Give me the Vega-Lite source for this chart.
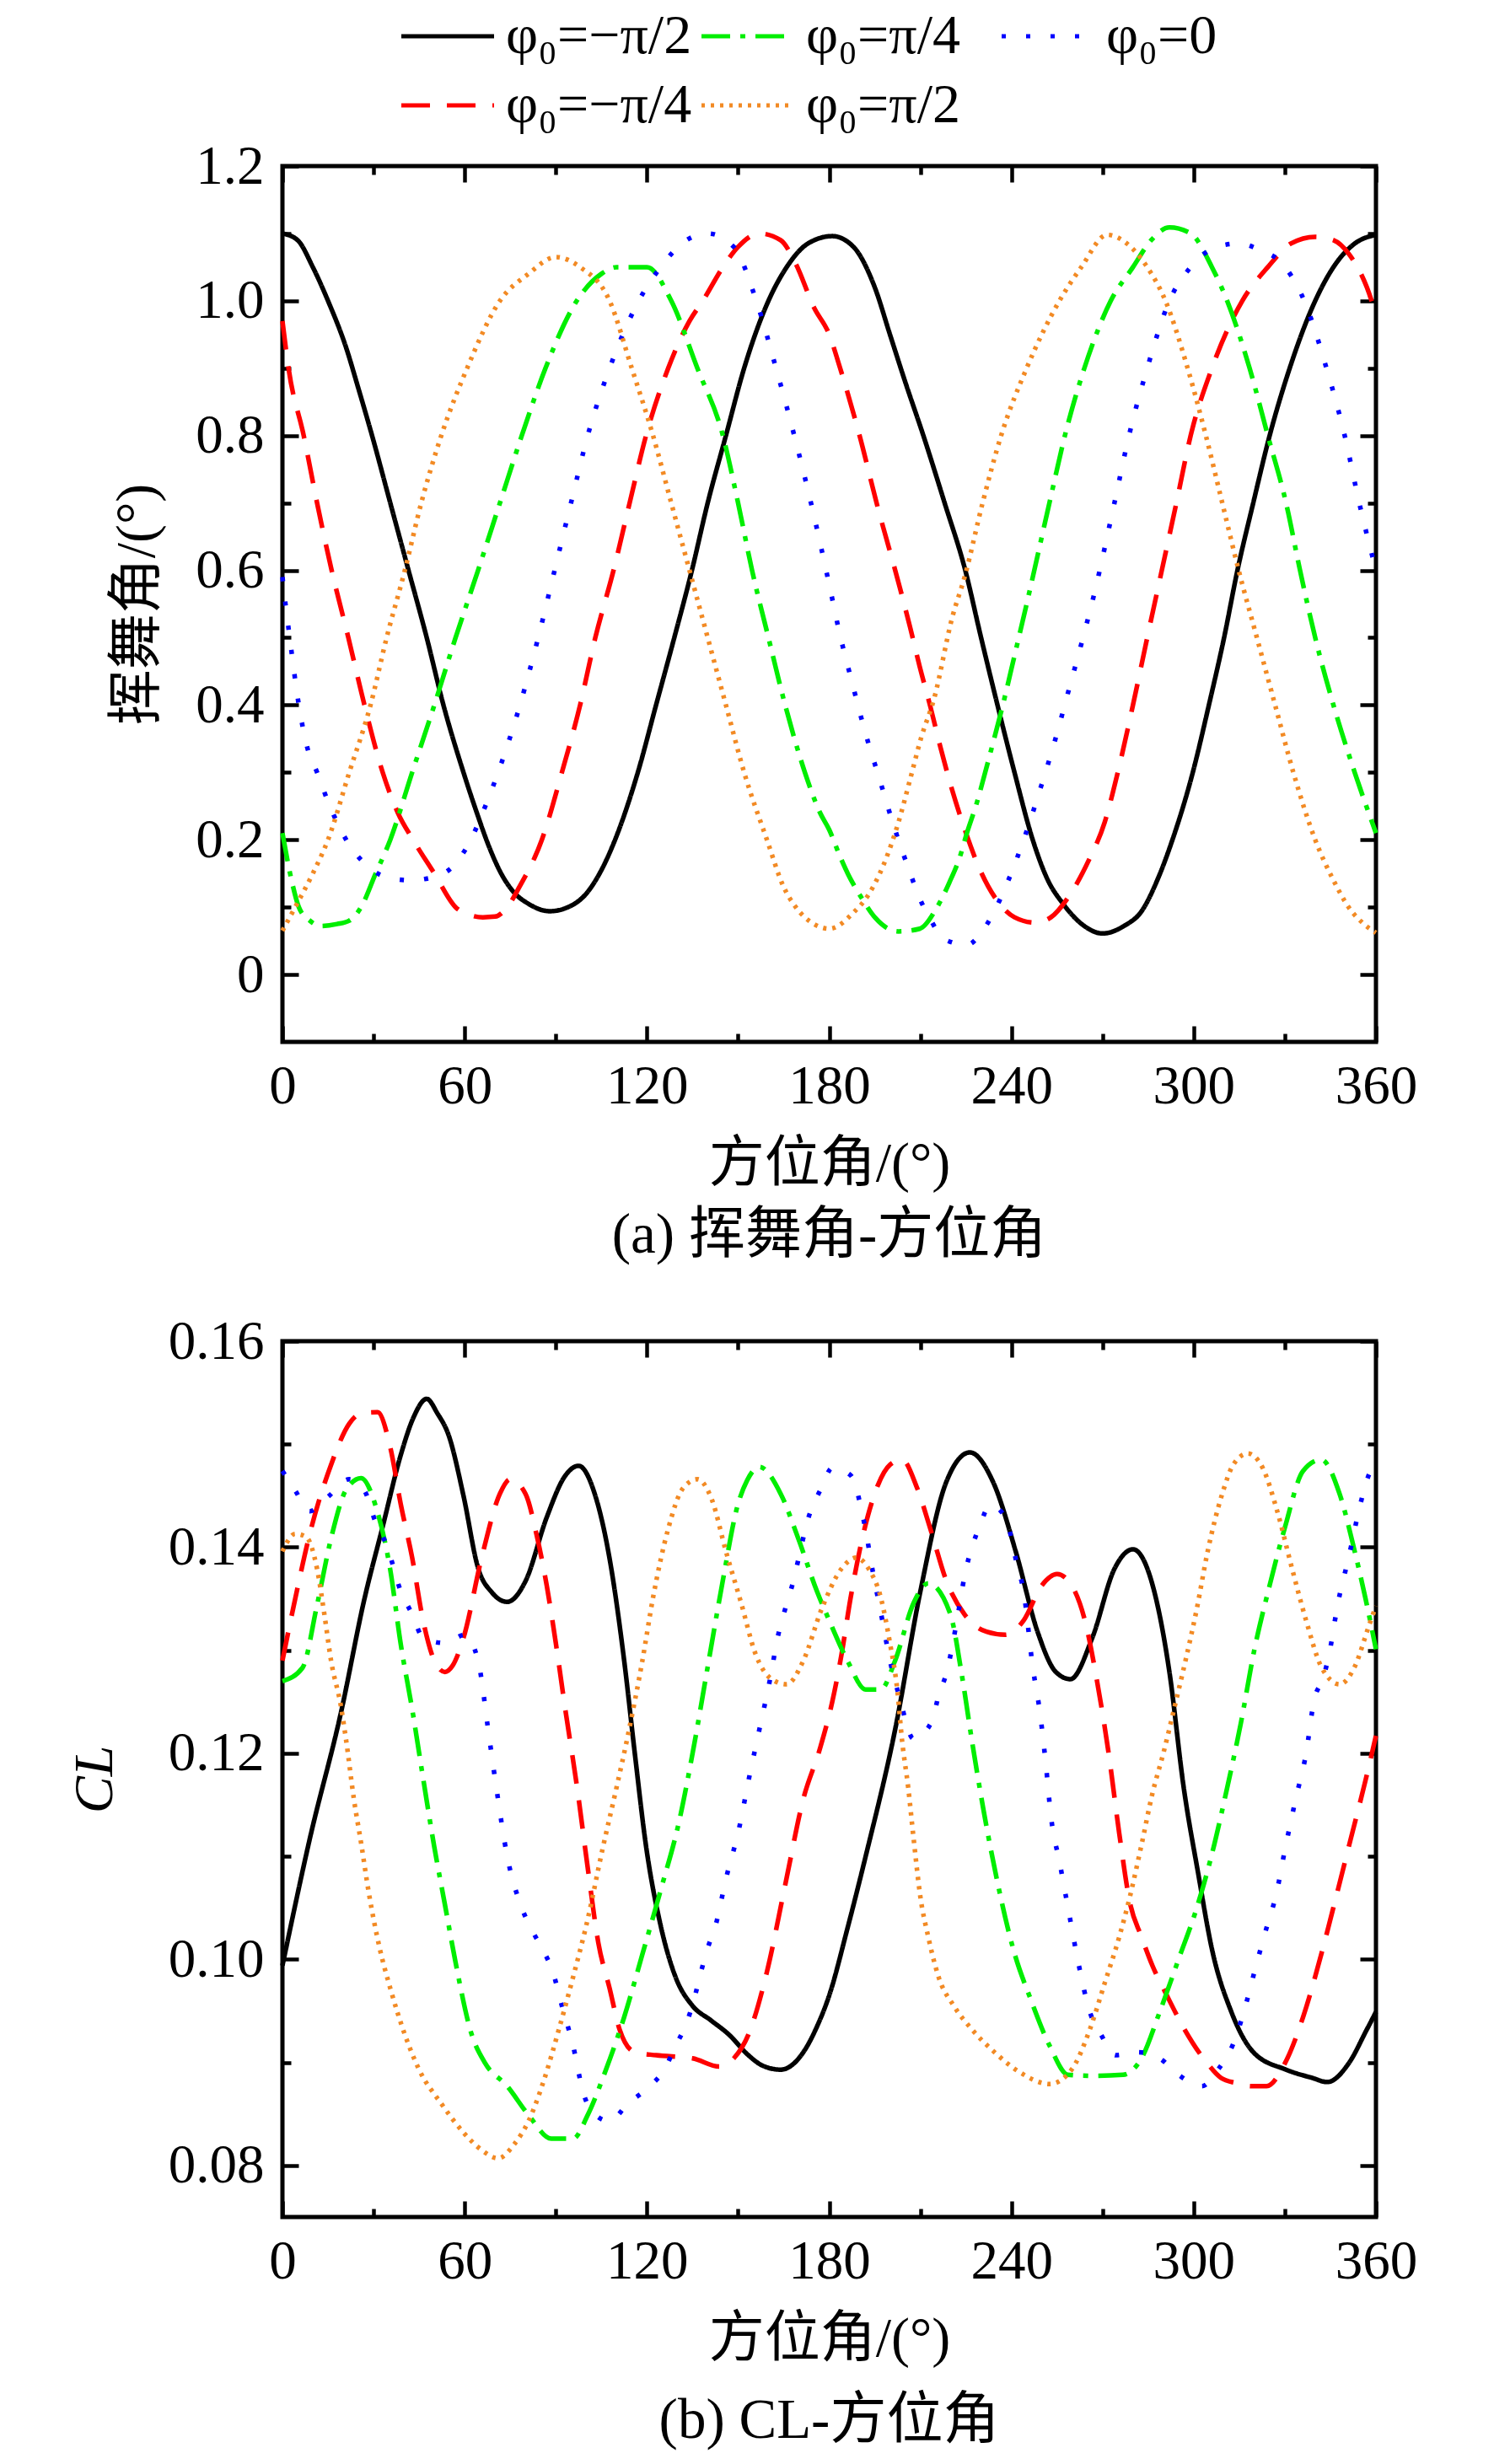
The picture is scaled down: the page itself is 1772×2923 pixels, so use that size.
{
"$schema": "https://vega.github.io/schema/vega-lite/v6.json",
"padding": {"left": 76, "top": 10, "right": 20, "bottom": 3},
"background": "white",
"config": {
  "font": "Liberation Serif, Noto Sans CJK SC",
  "view": {"stroke": "black", "strokeWidth": 5},
  "axis": {"domain": false, "grid": false, "labelFont": "Liberation Serif", "labelFontSize": 65, "labelColor": "black", "tickColor": "black", "tickWidth": 4.5, "titleFont": "Liberation Serif, Noto Sans CJK SC", "titleFontSize": 66, "titleFontWeight": "normal", "titleColor": "black", "labelFlush": false, "labelOverlap": false},
  "title": {"font": "Liberation Serif, Noto Sans CJK SC", "fontSize": 67, "fontWeight": "normal", "orient": "bottom", "anchor": "middle", "color": "black"},
  "legend": {"orient": "none", "legendX": 163, "legendY": -187, "direction": "horizontal", "columns": 3, "gridAlign": "all", "symbolType": "M-2,0L2,0", "symbolSize": 3025, "symbolStrokeWidth": 5, "labelFontSize": 66, "labelFont": "Liberation Serif, DejaVu Serif", "labelColor": "black", "labelOffset": 36, "columnPadding": 1, "rowPadding": 16, "labelLimit": 0}
},
"resolve": {"scale": {"color": "shared", "strokeDash": "shared"}, "legend": {"color": "shared", "strokeDash": "shared"}},
"spacing": 54,
"datasets": {
"a": [
{"s":"φ₀=−π/2","x":0,"y":1.10},{"s":"φ₀=−π/2","x":5,"y":1.09},{"s":"φ₀=−π/2","x":10,"y":1.05},{"s":"φ₀=−π/2","x":15,"y":1.0},{"s":"φ₀=−π/2","x":21,"y":0.93},{"s":"φ₀=−π/2","x":25,"y":0.87},{"s":"φ₀=−π/2","x":29.5,"y":0.8},{"s":"φ₀=−π/2","x":35.5,"y":0.7},{"s":"φ₀=−π/2","x":41.5,"y":0.6},{"s":"φ₀=−π/2","x":47.5,"y":0.5},{"s":"φ₀=−π/2","x":53,"y":0.4},{"s":"φ₀=−π/2","x":59.6,"y":0.3},{"s":"φ₀=−π/2","x":64,"y":0.24},{"s":"φ₀=−π/2","x":68,"y":0.19},{"s":"φ₀=−π/2","x":72,"y":0.15},{"s":"φ₀=−π/2","x":76,"y":0.123},{"s":"φ₀=−π/2","x":81,"y":0.105},{"s":"φ₀=−π/2","x":88,"y":0.094},{"s":"φ₀=−π/2","x":94,"y":0.1},{"s":"φ₀=−π/2","x":100,"y":0.12},{"s":"φ₀=−π/2","x":105,"y":0.155},{"s":"φ₀=−π/2","x":109.5,"y":0.2},{"s":"φ₀=−π/2","x":117,"y":0.3},{"s":"φ₀=−π/2","x":123,"y":0.4},{"s":"φ₀=−π/2","x":129,"y":0.5},{"s":"φ₀=−π/2","x":134.8,"y":0.6},{"s":"φ₀=−π/2","x":140,"y":0.7},{"s":"φ₀=−π/2","x":146,"y":0.8},{"s":"φ₀=−π/2","x":152,"y":0.9},{"s":"φ₀=−π/2","x":160,"y":1.0},{"s":"φ₀=−π/2","x":166,"y":1.05},{"s":"φ₀=−π/2","x":173,"y":1.085},{"s":"φ₀=−π/2","x":181,"y":1.096},{"s":"φ₀=−π/2","x":188,"y":1.08},{"s":"φ₀=−π/2","x":195,"y":1.02},{"s":"φ₀=−π/2","x":200,"y":0.95},{"s":"φ₀=−π/2","x":205,"y":0.88},{"s":"φ₀=−π/2","x":211,"y":0.8},{"s":"φ₀=−π/2","x":218,"y":0.7},{"s":"φ₀=−π/2","x":224.8,"y":0.6},{"s":"φ₀=−π/2","x":230,"y":0.5},{"s":"φ₀=−π/2","x":235.4,"y":0.4},{"s":"φ₀=−π/2","x":241,"y":0.3},{"s":"φ₀=−π/2","x":247,"y":0.2},{"s":"φ₀=−π/2","x":252,"y":0.14},{"s":"φ₀=−π/2","x":257,"y":0.105},{"s":"φ₀=−π/2","x":263.4,"y":0.074},{"s":"φ₀=−π/2","x":270,"y":0.061},{"s":"φ₀=−π/2","x":277,"y":0.072},{"s":"φ₀=−π/2","x":283,"y":0.095},{"s":"φ₀=−π/2","x":288,"y":0.14},{"s":"φ₀=−π/2","x":293,"y":0.2},{"s":"φ₀=−π/2","x":299.7,"y":0.3},{"s":"φ₀=−π/2","x":305,"y":0.4},{"s":"φ₀=−π/2","x":310,"y":0.5},{"s":"φ₀=−π/2","x":314.4,"y":0.6},{"s":"φ₀=−π/2","x":319.6,"y":0.7},{"s":"φ₀=−π/2","x":325,"y":0.8},{"s":"φ₀=−π/2","x":331.6,"y":0.9},{"s":"φ₀=−π/2","x":340,"y":1.0},{"s":"φ₀=−π/2","x":346,"y":1.05},{"s":"φ₀=−π/2","x":353,"y":1.085},{"s":"φ₀=−π/2","x":360,"y":1.098},
{"s":"φ₀=−π/4","x":0,"y":0.97},{"s":"φ₀=−π/4","x":2,"y":0.9},{"s":"φ₀=−π/4","x":7,"y":0.8},{"s":"φ₀=−π/4","x":11.4,"y":0.7},{"s":"φ₀=−π/4","x":16.2,"y":0.6},{"s":"φ₀=−π/4","x":21.7,"y":0.5},{"s":"φ₀=−π/4","x":27,"y":0.4},{"s":"φ₀=−π/4","x":33,"y":0.3},{"s":"φ₀=−π/4","x":38,"y":0.24},{"s":"φ₀=−π/4","x":43,"y":0.2},{"s":"φ₀=−π/4","x":50,"y":0.15},{"s":"φ₀=−π/4","x":57,"y":0.1},{"s":"φ₀=−π/4","x":62,"y":0.088},{"s":"φ₀=−π/4","x":66,"y":0.085},{"s":"φ₀=−π/4","x":70,"y":0.086},{"s":"φ₀=−π/4","x":74,"y":0.1},{"s":"φ₀=−π/4","x":78,"y":0.13},{"s":"φ₀=−π/4","x":85.4,"y":0.2},{"s":"φ₀=−π/4","x":92,"y":0.3},{"s":"φ₀=−π/4","x":98,"y":0.4},{"s":"φ₀=−π/4","x":103,"y":0.5},{"s":"φ₀=−π/4","x":109,"y":0.6},{"s":"φ₀=−π/4","x":114.3,"y":0.7},{"s":"φ₀=−π/4","x":119.7,"y":0.8},{"s":"φ₀=−π/4","x":127,"y":0.9},{"s":"φ₀=−π/4","x":134,"y":0.97},{"s":"φ₀=−π/4","x":138.4,"y":1.0},{"s":"φ₀=−π/4","x":145,"y":1.05},{"s":"φ₀=−π/4","x":150,"y":1.08},{"s":"φ₀=−π/4","x":157,"y":1.10},{"s":"φ₀=−π/4","x":164,"y":1.09},{"s":"φ₀=−π/4","x":169,"y":1.055},{"s":"φ₀=−π/4","x":175,"y":0.99},{"s":"φ₀=−π/4","x":180,"y":0.95},{"s":"φ₀=−π/4","x":183.6,"y":0.9},{"s":"φ₀=−π/4","x":190,"y":0.8},{"s":"φ₀=−π/4","x":195.6,"y":0.7},{"s":"φ₀=−π/4","x":203.1,"y":0.577},{"s":"φ₀=−π/4","x":206.6,"y":0.516},{"s":"φ₀=−π/4","x":209.8,"y":0.457},{"s":"φ₀=−π/4","x":213.4,"y":0.396},{"s":"φ₀=−π/4","x":216.7,"y":0.336},{"s":"φ₀=−π/4","x":220.4,"y":0.275},{"s":"φ₀=−π/4","x":224.5,"y":0.217},{"s":"φ₀=−π/4","x":229.3,"y":0.159},{"s":"φ₀=−π/4","x":235.9,"y":0.106},{"s":"φ₀=−π/4","x":241,"y":0.085},{"s":"φ₀=−π/4","x":247.8,"y":0.077},{"s":"φ₀=−π/4","x":253,"y":0.085},{"s":"φ₀=−π/4","x":258.6,"y":0.114},{"s":"φ₀=−π/4","x":265.5,"y":0.17},{"s":"φ₀=−π/4","x":270.7,"y":0.226},{"s":"φ₀=−π/4","x":275,"y":0.3},{"s":"φ₀=−π/4","x":280,"y":0.4},{"s":"φ₀=−π/4","x":284.7,"y":0.5},{"s":"φ₀=−π/4","x":289.5,"y":0.6},{"s":"φ₀=−π/4","x":294.3,"y":0.7},{"s":"φ₀=−π/4","x":299,"y":0.8},{"s":"φ₀=−π/4","x":306,"y":0.9},{"s":"φ₀=−π/4","x":316,"y":1.0},{"s":"φ₀=−π/4","x":324.4,"y":1.05},{"s":"φ₀=−π/4","x":332,"y":1.085},{"s":"φ₀=−π/4","x":340,"y":1.095},{"s":"φ₀=−π/4","x":346,"y":1.09},{"s":"φ₀=−π/4","x":351,"y":1.07},{"s":"φ₀=−π/4","x":357,"y":1.02},{"s":"φ₀=−π/4","x":360,"y":0.98},
{"s":"φ₀=π/4","x":0,"y":0.21},{"s":"φ₀=π/4","x":3,"y":0.14},{"s":"φ₀=π/4","x":5.4,"y":0.1},{"s":"φ₀=π/4","x":9,"y":0.08},{"s":"φ₀=π/4","x":12.6,"y":0.072},{"s":"φ₀=π/4","x":18,"y":0.075},{"s":"φ₀=π/4","x":22,"y":0.08},{"s":"φ₀=π/4","x":25.9,"y":0.1},{"s":"φ₀=π/4","x":30.7,"y":0.15},{"s":"φ₀=π/4","x":35.5,"y":0.2},{"s":"φ₀=π/4","x":42.7,"y":0.3},{"s":"φ₀=π/4","x":50,"y":0.4},{"s":"φ₀=π/4","x":57,"y":0.5},{"s":"φ₀=π/4","x":64.4,"y":0.6},{"s":"φ₀=π/4","x":71.6,"y":0.7},{"s":"φ₀=π/4","x":78.8,"y":0.8},{"s":"φ₀=π/4","x":86.6,"y":0.9},{"s":"φ₀=π/4","x":96.9,"y":1.0},{"s":"φ₀=π/4","x":105,"y":1.04},{"s":"φ₀=π/4","x":110,"y":1.05},{"s":"φ₀=π/4","x":120,"y":1.05},{"s":"φ₀=π/4","x":128,"y":1.0},{"s":"φ₀=π/4","x":136.6,"y":0.9},{"s":"φ₀=π/4","x":145,"y":0.8},{"s":"φ₀=π/4","x":150,"y":0.7},{"s":"φ₀=π/4","x":154.6,"y":0.6},{"s":"φ₀=π/4","x":160,"y":0.5},{"s":"φ₀=π/4","x":165.5,"y":0.4},{"s":"φ₀=π/4","x":172,"y":0.3},{"s":"φ₀=π/4","x":177,"y":0.24},{"s":"φ₀=π/4","x":180,"y":0.215},{"s":"φ₀=π/4","x":183.4,"y":0.177},{"s":"φ₀=π/4","x":186.2,"y":0.149},{"s":"φ₀=π/4","x":190.5,"y":0.115},{"s":"φ₀=π/4","x":195.2,"y":0.084},{"s":"φ₀=π/4","x":202.8,"y":0.064},{"s":"φ₀=π/4","x":209.8,"y":0.068},{"s":"φ₀=π/4","x":215.4,"y":0.099},{"s":"φ₀=π/4","x":219.6,"y":0.137},{"s":"φ₀=π/4","x":222.9,"y":0.173},{"s":"φ₀=π/4","x":225.4,"y":0.211},{"s":"φ₀=π/4","x":228.2,"y":0.249},{"s":"φ₀=π/4","x":232.7,"y":0.323},{"s":"φ₀=π/4","x":237.1,"y":0.399},{"s":"φ₀=π/4","x":241.1,"y":0.475},{"s":"φ₀=π/4","x":245.1,"y":0.552},{"s":"φ₀=π/4","x":252.5,"y":0.7},{"s":"φ₀=π/4","x":257.6,"y":0.8},{"s":"φ₀=π/4","x":264,"y":0.9},{"s":"φ₀=π/4","x":272.7,"y":1.0},{"s":"φ₀=π/4","x":280,"y":1.05},{"s":"φ₀=π/4","x":286,"y":1.09},{"s":"φ₀=π/4","x":292,"y":1.109},{"s":"φ₀=π/4","x":299,"y":1.1},{"s":"φ₀=π/4","x":306,"y":1.05},{"s":"φ₀=π/4","x":311,"y":1.0},{"s":"φ₀=π/4","x":318.4,"y":0.9},{"s":"φ₀=π/4","x":324.4,"y":0.8},{"s":"φ₀=π/4","x":330.4,"y":0.7},{"s":"φ₀=π/4","x":335,"y":0.6},{"s":"φ₀=π/4","x":340,"y":0.5},{"s":"φ₀=π/4","x":346,"y":0.4},{"s":"φ₀=π/4","x":353,"y":0.3},{"s":"φ₀=π/4","x":360,"y":0.21},
{"s":"φ₀=0","x":0,"y":0.59},{"s":"φ₀=0","x":1,"y":0.55},{"s":"φ₀=0","x":2.4,"y":0.5},{"s":"φ₀=0","x":5.4,"y":0.4},{"s":"φ₀=0","x":8,"y":0.34},{"s":"φ₀=0","x":11.4,"y":0.3},{"s":"φ₀=0","x":15.6,"y":0.25},{"s":"φ₀=0","x":21,"y":0.2},{"s":"φ₀=0","x":27,"y":0.165},{"s":"φ₀=0","x":34,"y":0.145},{"s":"φ₀=0","x":42,"y":0.14},{"s":"φ₀=0","x":50,"y":0.145},{"s":"φ₀=0","x":56,"y":0.16},{"s":"φ₀=0","x":62,"y":0.2},{"s":"φ₀=0","x":66.8,"y":0.25},{"s":"φ₀=0","x":71,"y":0.3},{"s":"φ₀=0","x":78.2,"y":0.4},{"s":"φ₀=0","x":84.2,"y":0.5},{"s":"φ₀=0","x":89.6,"y":0.6},{"s":"φ₀=0","x":95,"y":0.7},{"s":"φ₀=0","x":100.5,"y":0.8},{"s":"φ₀=0","x":107.7,"y":0.9},{"s":"φ₀=0","x":117.3,"y":1.0},{"s":"φ₀=0","x":124.5,"y":1.05},{"s":"φ₀=0","x":133,"y":1.09},{"s":"φ₀=0","x":140,"y":1.10},{"s":"φ₀=0","x":148.6,"y":1.08},{"s":"φ₀=0","x":156,"y":1.0},{"s":"φ₀=0","x":162.5,"y":0.9},{"s":"φ₀=0","x":168.5,"y":0.8},{"s":"φ₀=0","x":174,"y":0.7},{"s":"φ₀=0","x":180,"y":0.579},{"s":"φ₀=0","x":183.4,"y":0.507},{"s":"φ₀=0","x":187.5,"y":0.434},{"s":"φ₀=0","x":191.7,"y":0.362},{"s":"φ₀=0","x":196.5,"y":0.291},{"s":"φ₀=0","x":201.3,"y":0.22},{"s":"φ₀=0","x":206.7,"y":0.15},{"s":"φ₀=0","x":209.6,"y":0.115},{"s":"φ₀=0","x":213.3,"y":0.082},{"s":"φ₀=0","x":217.7,"y":0.053},{"s":"φ₀=0","x":225.3,"y":0.044},{"s":"φ₀=0","x":231.4,"y":0.071},{"s":"φ₀=0","x":238.8,"y":0.138},{"s":"φ₀=0","x":244.7,"y":0.209},{"s":"φ₀=0","x":249.8,"y":0.28},{"s":"φ₀=0","x":254.5,"y":0.35},{"s":"φ₀=0","x":258.9,"y":0.423},{"s":"φ₀=0","x":263.2,"y":0.494},{"s":"φ₀=0","x":267.3,"y":0.566},{"s":"φ₀=0","x":273.9,"y":0.7},{"s":"φ₀=0","x":278.7,"y":0.8},{"s":"φ₀=0","x":284.7,"y":0.9},{"s":"φ₀=0","x":292,"y":1.0},{"s":"φ₀=0","x":299,"y":1.05},{"s":"φ₀=0","x":307.6,"y":1.08},{"s":"φ₀=0","x":314.8,"y":1.085},{"s":"φ₀=0","x":322,"y":1.075},{"s":"φ₀=0","x":328,"y":1.06},{"s":"φ₀=0","x":336.4,"y":1.0},{"s":"φ₀=0","x":343.7,"y":0.9},{"s":"φ₀=0","x":349.7,"y":0.8},{"s":"φ₀=0","x":354.5,"y":0.7},{"s":"φ₀=0","x":360,"y":0.6},
{"s":"φ₀=π/2","x":0,"y":0.065},{"s":"φ₀=π/2","x":4.2,"y":0.1},{"s":"φ₀=π/2","x":10,"y":0.15},{"s":"φ₀=π/2","x":15,"y":0.2},{"s":"φ₀=π/2","x":22,"y":0.3},{"s":"φ₀=π/2","x":29,"y":0.4},{"s":"φ₀=π/2","x":34.3,"y":0.5},{"s":"φ₀=π/2","x":40.3,"y":0.6},{"s":"φ₀=π/2","x":45.7,"y":0.7},{"s":"φ₀=π/2","x":52.3,"y":0.8},{"s":"φ₀=π/2","x":60.8,"y":0.9},{"s":"φ₀=π/2","x":71.6,"y":1.0},{"s":"φ₀=π/2","x":81,"y":1.04},{"s":"φ₀=π/2","x":90,"y":1.065},{"s":"φ₀=π/2","x":98,"y":1.05},{"s":"φ₀=π/2","x":107.7,"y":1.0},{"s":"φ₀=π/2","x":115,"y":0.9},{"s":"φ₀=π/2","x":122,"y":0.8},{"s":"φ₀=π/2","x":128,"y":0.7},{"s":"φ₀=π/2","x":134,"y":0.6},{"s":"φ₀=π/2","x":140,"y":0.5},{"s":"φ₀=π/2","x":146,"y":0.4},{"s":"φ₀=π/2","x":152,"y":0.3},{"s":"φ₀=π/2","x":159.5,"y":0.2},{"s":"φ₀=π/2","x":165,"y":0.13},{"s":"φ₀=π/2","x":169,"y":0.1},{"s":"φ₀=π/2","x":175,"y":0.075},{"s":"φ₀=π/2","x":180,"y":0.068},{"s":"φ₀=π/2","x":188,"y":0.092},{"s":"φ₀=π/2","x":193,"y":0.119},{"s":"φ₀=π/2","x":198,"y":0.164},{"s":"φ₀=π/2","x":202.8,"y":0.226},{"s":"φ₀=π/2","x":206.6,"y":0.289},{"s":"φ₀=π/2","x":210.3,"y":0.352},{"s":"φ₀=π/2","x":214.5,"y":0.409},{"s":"φ₀=π/2","x":220.5,"y":0.53},{"s":"φ₀=π/2","x":224.7,"y":0.592},{"s":"φ₀=π/2","x":230.5,"y":0.7},{"s":"φ₀=π/2","x":236.6,"y":0.8},{"s":"φ₀=π/2","x":245,"y":0.9},{"s":"φ₀=π/2","x":255.8,"y":1.0},{"s":"φ₀=π/2","x":263,"y":1.05},{"s":"φ₀=π/2","x":271.5,"y":1.098},{"s":"φ₀=π/2","x":278,"y":1.085},{"s":"φ₀=π/2","x":284.7,"y":1.05},{"s":"φ₀=π/2","x":290.7,"y":1.0},{"s":"φ₀=π/2","x":298,"y":0.9},{"s":"φ₀=π/2","x":304,"y":0.8},{"s":"φ₀=π/2","x":309.4,"y":0.7},{"s":"φ₀=π/2","x":314.8,"y":0.6},{"s":"φ₀=π/2","x":320.8,"y":0.5},{"s":"φ₀=π/2","x":326.8,"y":0.4},{"s":"φ₀=π/2","x":332.8,"y":0.3},{"s":"φ₀=π/2","x":340,"y":0.2},{"s":"φ₀=π/2","x":346,"y":0.14},{"s":"φ₀=π/2","x":351,"y":0.1},{"s":"φ₀=π/2","x":356,"y":0.075},{"s":"φ₀=π/2","x":360,"y":0.062}
],
"b": [
{"s":"φ₀=−π/2","x":0,"y":0.0994},{"s":"φ₀=−π/2","x":9,"y":0.1117},{"s":"φ₀=−π/2","x":19.3,"y":0.124},{"s":"φ₀=−π/2","x":27,"y":0.135},{"s":"φ₀=−π/2","x":33,"y":0.142},{"s":"φ₀=−π/2","x":39,"y":0.149},{"s":"φ₀=−π/2","x":43,"y":0.1525},{"s":"φ₀=−π/2","x":47.5,"y":0.1544},{"s":"φ₀=−π/2","x":51,"y":0.153},{"s":"φ₀=−π/2","x":54.8,"y":0.1508},{"s":"φ₀=−π/2","x":59.6,"y":0.145},{"s":"φ₀=−π/2","x":64.4,"y":0.138},{"s":"φ₀=−π/2","x":69,"y":0.1356},{"s":"φ₀=−π/2","x":74,"y":0.1347},{"s":"φ₀=−π/2","x":80,"y":0.1367},{"s":"φ₀=−π/2","x":87,"y":0.1429},{"s":"φ₀=−π/2","x":93,"y":0.1469},{"s":"φ₀=−π/2","x":97.5,"y":0.1479},{"s":"φ₀=−π/2","x":103,"y":0.145},{"s":"φ₀=−π/2","x":107.7,"y":0.1389},{"s":"φ₀=−π/2","x":112.5,"y":0.129},{"s":"φ₀=−π/2","x":116,"y":0.12},{"s":"φ₀=−π/2","x":119.7,"y":0.111},{"s":"φ₀=−π/2","x":124.5,"y":0.1033},{"s":"φ₀=−π/2","x":129.4,"y":0.0983},{"s":"φ₀=−π/2","x":135,"y":0.0955},{"s":"φ₀=−π/2","x":141,"y":0.0941},{"s":"φ₀=−π/2","x":147,"y":0.0927},{"s":"φ₀=−π/2","x":153.4,"y":0.0907},{"s":"φ₀=−π/2","x":158,"y":0.0897},{"s":"φ₀=−π/2","x":164,"y":0.0893},{"s":"φ₀=−π/2","x":171.5,"y":0.091},{"s":"φ₀=−π/2","x":176,"y":0.0935},{"s":"φ₀=−π/2","x":180,"y":0.0965},{"s":"φ₀=−π/2","x":186,"y":0.103},{"s":"φ₀=−π/2","x":192,"y":0.11},{"s":"φ₀=−π/2","x":201.7,"y":0.1223},{"s":"φ₀=−π/2","x":210,"y":0.1357},{"s":"φ₀=−π/2","x":218.5,"y":0.1463},{"s":"φ₀=−π/2","x":226.3,"y":0.1492},{"s":"φ₀=−π/2","x":234,"y":0.1463},{"s":"φ₀=−π/2","x":241.4,"y":0.1396},{"s":"φ₀=−π/2","x":248.6,"y":0.1318},{"s":"φ₀=−π/2","x":254.6,"y":0.1279},{"s":"φ₀=−π/2","x":259.4,"y":0.1272},{"s":"φ₀=−π/2","x":266.6,"y":0.1312},{"s":"φ₀=−π/2","x":273.9,"y":0.1379},{"s":"φ₀=−π/2","x":280,"y":0.1398},{"s":"φ₀=−π/2","x":286,"y":0.1368},{"s":"φ₀=−π/2","x":292,"y":0.1279},{"s":"φ₀=−π/2","x":296.7,"y":0.1167},{"s":"φ₀=−π/2","x":301.5,"y":0.1083},{"s":"φ₀=−π/2","x":306,"y":0.101},{"s":"φ₀=−π/2","x":312.4,"y":0.0949},{"s":"φ₀=−π/2","x":319.6,"y":0.091},{"s":"φ₀=−π/2","x":330.4,"y":0.0893},{"s":"φ₀=−π/2","x":339,"y":0.0885},{"s":"φ₀=−π/2","x":344,"y":0.0881},{"s":"φ₀=−π/2","x":351,"y":0.0899},{"s":"φ₀=−π/2","x":357,"y":0.0932},{"s":"φ₀=−π/2","x":360,"y":0.0949},
{"s":"φ₀=−π/4","x":0,"y":0.129},{"s":"φ₀=−π/4","x":4.2,"y":0.135},{"s":"φ₀=−π/4","x":9,"y":0.1413},{"s":"φ₀=−π/4","x":16,"y":0.148},{"s":"φ₀=−π/4","x":22,"y":0.152},{"s":"φ₀=−π/4","x":26,"y":0.153},{"s":"φ₀=−π/4","x":31.3,"y":0.1531},{"s":"φ₀=−π/4","x":35.5,"y":0.1497},{"s":"φ₀=−π/4","x":39,"y":0.1441},{"s":"φ₀=−π/4","x":42.7,"y":0.139},{"s":"φ₀=−π/4","x":46.3,"y":0.1329},{"s":"φ₀=−π/4","x":50,"y":0.129},{"s":"φ₀=−π/4","x":53.5,"y":0.1279},{"s":"φ₀=−π/4","x":56,"y":0.1285},{"s":"φ₀=−π/4","x":59.6,"y":0.1312},{"s":"φ₀=−π/4","x":65.6,"y":0.139},{"s":"φ₀=−π/4","x":71.6,"y":0.1452},{"s":"φ₀=−π/4","x":75,"y":0.1466},{"s":"φ₀=−π/4","x":80,"y":0.1452},{"s":"φ₀=−π/4","x":83.6,"y":0.1413},{"s":"φ₀=−π/4","x":87,"y":0.1363},{"s":"φ₀=−π/4","x":90,"y":0.1307},{"s":"φ₀=−π/4","x":93,"y":0.1245},{"s":"φ₀=−π/4","x":97,"y":0.1167},{"s":"φ₀=−π/4","x":100.5,"y":0.1089},{"s":"φ₀=−π/4","x":104,"y":0.1016},{"s":"φ₀=−π/4","x":107.7,"y":0.0972},{"s":"φ₀=−π/4","x":111,"y":0.0932},{"s":"φ₀=−π/4","x":116,"y":0.091},{"s":"φ₀=−π/4","x":123,"y":0.0907},{"s":"φ₀=−π/4","x":135,"y":0.0904},{"s":"φ₀=−π/4","x":143.8,"y":0.0896},{"s":"φ₀=−π/4","x":148.6,"y":0.0904},{"s":"φ₀=−π/4","x":153.4,"y":0.0927},{"s":"φ₀=−π/4","x":159.5,"y":0.0988},{"s":"φ₀=−π/4","x":165.5,"y":0.1072},{"s":"φ₀=−π/4","x":171.5,"y":0.1156},{"s":"φ₀=−π/4","x":177,"y":0.1205},{"s":"φ₀=−π/4","x":181,"y":0.125},{"s":"φ₀=−π/4","x":184,"y":0.1295},{"s":"φ₀=−π/4","x":187,"y":0.135},{"s":"φ₀=−π/4","x":191,"y":0.141},{"s":"φ₀=−π/4","x":196,"y":0.146},{"s":"φ₀=−π/4","x":200,"y":0.148},{"s":"φ₀=−π/4","x":204,"y":0.1485},{"s":"φ₀=−π/4","x":209,"y":0.1457},{"s":"φ₀=−π/4","x":213.8,"y":0.1413},{"s":"φ₀=−π/4","x":218.5,"y":0.1368},{"s":"φ₀=−π/4","x":224.5,"y":0.1335},{"s":"φ₀=−π/4","x":231.8,"y":0.1318},{"s":"φ₀=−π/4","x":238,"y":0.1315},{"s":"φ₀=−π/4","x":244,"y":0.1329},{"s":"φ₀=−π/4","x":250,"y":0.1363},{"s":"φ₀=−π/4","x":255,"y":0.1374},{"s":"φ₀=−π/4","x":259.8,"y":0.1363},{"s":"φ₀=−π/4","x":264.6,"y":0.1324},{"s":"φ₀=−π/4","x":268,"y":0.1273},{"s":"φ₀=−π/4","x":272,"y":0.12},{"s":"φ₀=−π/4","x":275.5,"y":0.1122},{"s":"φ₀=−π/4","x":279,"y":0.1055},{"s":"φ₀=−π/4","x":282.8,"y":0.1022},{"s":"φ₀=−π/4","x":286.4,"y":0.0994},{"s":"φ₀=−π/4","x":291,"y":0.0966},{"s":"φ₀=−π/4","x":297,"y":0.0932},{"s":"φ₀=−π/4","x":304.5,"y":0.0899},{"s":"φ₀=−π/4","x":309,"y":0.0885},{"s":"φ₀=−π/4","x":314,"y":0.088},{"s":"φ₀=−π/4","x":319,"y":0.0877},{"s":"φ₀=−π/4","x":324,"y":0.0877},{"s":"φ₀=−π/4","x":330,"y":0.0899},{"s":"φ₀=−π/4","x":336,"y":0.0944},{"s":"φ₀=−π/4","x":342,"y":0.1005},{"s":"φ₀=−π/4","x":346.9,"y":0.1061},{"s":"φ₀=−π/4","x":351.7,"y":0.1117},{"s":"φ₀=−π/4","x":356.5,"y":0.1173},{"s":"φ₀=−π/4","x":360,"y":0.1217},
{"s":"φ₀=π/4","x":0,"y":0.127},{"s":"φ₀=π/4","x":6.6,"y":0.1283},{"s":"φ₀=π/4","x":11.4,"y":0.1344},{"s":"φ₀=π/4","x":16.2,"y":0.1411},{"s":"φ₀=π/4","x":21,"y":0.1456},{"s":"φ₀=π/4","x":25.9,"y":0.1467},{"s":"φ₀=π/4","x":30.7,"y":0.144},{"s":"φ₀=π/4","x":35.5,"y":0.1378},{"s":"φ₀=π/4","x":39,"y":0.1305},{"s":"φ₀=π/4","x":42.7,"y":0.1243},{"s":"φ₀=π/4","x":46.3,"y":0.1176},{"s":"φ₀=π/4","x":50,"y":0.1109},{"s":"φ₀=π/4","x":53.5,"y":0.1053},{"s":"φ₀=π/4","x":57,"y":0.0997},{"s":"φ₀=π/4","x":62,"y":0.093},{"s":"φ₀=π/4","x":66.8,"y":0.0899},{"s":"φ₀=π/4","x":74,"y":0.0877},{"s":"φ₀=π/4","x":81,"y":0.0849},{"s":"φ₀=π/4","x":88.5,"y":0.0826},{"s":"φ₀=π/4","x":95.7,"y":0.0826},{"s":"φ₀=π/4","x":100.5,"y":0.0849},{"s":"φ₀=π/4","x":106.5,"y":0.0893},{"s":"φ₀=π/4","x":112.5,"y":0.0944},{"s":"φ₀=π/4","x":118.5,"y":0.1005},{"s":"φ₀=π/4","x":124.5,"y":0.1067},{"s":"φ₀=π/4","x":130.6,"y":0.1134},{"s":"φ₀=π/4","x":135.4,"y":0.1206},{"s":"φ₀=π/4","x":140,"y":0.1284},{"s":"φ₀=π/4","x":145,"y":0.1368},{"s":"φ₀=π/4","x":149.8,"y":0.144},{"s":"φ₀=π/4","x":153,"y":0.1465},{"s":"φ₀=π/4","x":157,"y":0.1478},{"s":"φ₀=π/4","x":164,"y":0.1452},{"s":"φ₀=π/4","x":170,"y":0.1407},{"s":"φ₀=π/4","x":176,"y":0.1357},{"s":"φ₀=π/4","x":180,"y":0.1329},{"s":"φ₀=π/4","x":186,"y":0.129},{"s":"φ₀=π/4","x":192,"y":0.1262},{"s":"φ₀=π/4","x":197,"y":0.1262},{"s":"φ₀=π/4","x":201.7,"y":0.129},{"s":"φ₀=π/4","x":207.8,"y":0.1346},{"s":"φ₀=π/4","x":212.6,"y":0.1365},{"s":"φ₀=π/4","x":219.9,"y":0.1335},{"s":"φ₀=π/4","x":223.5,"y":0.1279},{"s":"φ₀=π/4","x":227,"y":0.1212},{"s":"φ₀=π/4","x":230.8,"y":0.1145},{"s":"φ₀=π/4","x":235.6,"y":0.1072},{"s":"φ₀=π/4","x":240.5,"y":0.1011},{"s":"φ₀=π/4","x":246.5,"y":0.096},{"s":"φ₀=π/4","x":252.6,"y":0.0916},{"s":"φ₀=π/4","x":258.6,"y":0.0888},{"s":"φ₀=π/4","x":267,"y":0.0887},{"s":"φ₀=π/4","x":276.7,"y":0.0888},{"s":"φ₀=π/4","x":282.8,"y":0.0904},{"s":"φ₀=π/4","x":288.8,"y":0.0949},{"s":"φ₀=π/4","x":295,"y":0.1},{"s":"φ₀=π/4","x":301,"y":0.105},{"s":"φ₀=π/4","x":305.8,"y":0.11},{"s":"φ₀=π/4","x":310.6,"y":0.1161},{"s":"φ₀=π/4","x":315.5,"y":0.1229},{"s":"φ₀=π/4","x":320,"y":0.1301},{"s":"φ₀=π/4","x":325,"y":0.1363},{"s":"φ₀=π/4","x":330,"y":0.1419},{"s":"φ₀=π/4","x":336,"y":0.1474},{"s":"φ₀=π/4","x":342,"y":0.1485},{"s":"φ₀=π/4","x":348,"y":0.1452},{"s":"φ₀=π/4","x":353,"y":0.1396},{"s":"φ₀=π/4","x":356.5,"y":0.1351},{"s":"φ₀=π/4","x":360,"y":0.1301},
{"s":"φ₀=0","x":0,"y":0.1474},{"s":"φ₀=0","x":4.2,"y":0.1455},{"s":"φ₀=0","x":9,"y":0.1435},{"s":"φ₀=0","x":15,"y":0.1449},{"s":"φ₀=0","x":22,"y":0.1466},{"s":"φ₀=0","x":27,"y":0.1455},{"s":"φ₀=0","x":30.7,"y":0.1424},{"s":"φ₀=0","x":34.3,"y":0.1402},{"s":"φ₀=0","x":39,"y":0.1357},{"s":"φ₀=0","x":42.7,"y":0.1335},{"s":"φ₀=0","x":46.3,"y":0.1312},{"s":"φ₀=0","x":53.5,"y":0.1307},{"s":"φ₀=0","x":60,"y":0.1315},{"s":"φ₀=0","x":64.4,"y":0.129},{"s":"φ₀=0","x":68,"y":0.1217},{"s":"φ₀=0","x":70.4,"y":0.1167},{"s":"φ₀=0","x":74,"y":0.11},{"s":"φ₀=0","x":78.8,"y":0.105},{"s":"φ₀=0","x":82.4,"y":0.1027},{"s":"φ₀=0","x":86,"y":0.1008},{"s":"φ₀=0","x":89,"y":0.0988},{"s":"φ₀=0","x":92,"y":0.0955},{"s":"φ₀=0","x":95.7,"y":0.0916},{"s":"φ₀=0","x":99,"y":0.0871},{"s":"φ₀=0","x":103,"y":0.0849},{"s":"φ₀=0","x":107.7,"y":0.0843},{"s":"φ₀=0","x":113.7,"y":0.086},{"s":"φ₀=0","x":121,"y":0.0877},{"s":"φ₀=0","x":125.7,"y":0.0893},{"s":"φ₀=0","x":129.4,"y":0.0916},{"s":"φ₀=0","x":133,"y":0.0938},{"s":"φ₀=0","x":135.4,"y":0.096},{"s":"φ₀=0","x":137.8,"y":0.0988},{"s":"φ₀=0","x":140,"y":0.1011},{"s":"φ₀=0","x":142.6,"y":0.1033},{"s":"φ₀=0","x":146,"y":0.1078},{"s":"φ₀=0","x":150.4,"y":0.1128},{"s":"φ₀=0","x":153.4,"y":0.1173},{"s":"φ₀=0","x":157,"y":0.1223},{"s":"φ₀=0","x":160.6,"y":0.1273},{"s":"φ₀=0","x":163,"y":0.1312},{"s":"φ₀=0","x":165.5,"y":0.134},{"s":"φ₀=0","x":168,"y":0.1365},{"s":"φ₀=0","x":170,"y":0.139},{"s":"φ₀=0","x":172.7,"y":0.1424},{"s":"φ₀=0","x":177.5,"y":0.1458},{"s":"φ₀=0","x":181,"y":0.1477},{"s":"φ₀=0","x":187,"y":0.147},{"s":"φ₀=0","x":191.5,"y":0.1424},{"s":"φ₀=0","x":194.5,"y":0.1374},{"s":"φ₀=0","x":197.5,"y":0.1329},{"s":"φ₀=0","x":200,"y":0.129},{"s":"φ₀=0","x":203,"y":0.1256},{"s":"φ₀=0","x":207.8,"y":0.1214},{"s":"φ₀=0","x":213.8,"y":0.1231},{"s":"φ₀=0","x":216,"y":0.1256},{"s":"φ₀=0","x":218.7,"y":0.1279},{"s":"φ₀=0","x":221.7,"y":0.1323},{"s":"φ₀=0","x":224.7,"y":0.1374},{"s":"φ₀=0","x":229.6,"y":0.1421},{"s":"φ₀=0","x":233,"y":0.1441},{"s":"φ₀=0","x":238,"y":0.1429},{"s":"φ₀=0","x":241.7,"y":0.1385},{"s":"φ₀=0","x":244,"y":0.1357},{"s":"φ₀=0","x":247,"y":0.1284},{"s":"φ₀=0","x":249.5,"y":0.1237},{"s":"φ₀=0","x":251.3,"y":0.119},{"s":"φ₀=0","x":253,"y":0.1139},{"s":"φ₀=0","x":256,"y":0.1092},{"s":"φ₀=0","x":259,"y":0.1044},{"s":"φ₀=0","x":262,"y":0.0997},{"s":"φ₀=0","x":265.8,"y":0.0949},{"s":"φ₀=0","x":269.5,"y":0.0927},{"s":"φ₀=0","x":274.3,"y":0.0907},{"s":"φ₀=0","x":281.6,"y":0.091},{"s":"φ₀=0","x":288.8,"y":0.0904},{"s":"φ₀=0","x":295,"y":0.0888},{"s":"φ₀=0","x":302.7,"y":0.0877},{"s":"φ₀=0","x":308,"y":0.0893},{"s":"φ₀=0","x":313,"y":0.0918},{"s":"φ₀=0","x":317.8,"y":0.0963},{"s":"φ₀=0","x":320,"y":0.0988},{"s":"φ₀=0","x":324.5,"y":0.1036},{"s":"φ₀=0","x":327,"y":0.1061},{"s":"φ₀=0","x":330,"y":0.1106},{"s":"φ₀=0","x":333.6,"y":0.1156},{"s":"φ₀=0","x":337,"y":0.12},{"s":"φ₀=0","x":339.6,"y":0.1251},{"s":"φ₀=0","x":342.6,"y":0.1273},{"s":"φ₀=0","x":344.5,"y":0.1295},{"s":"φ₀=0","x":347.5,"y":0.1346},{"s":"φ₀=0","x":351,"y":0.139},{"s":"φ₀=0","x":354.8,"y":0.1441},{"s":"φ₀=0","x":357,"y":0.1465},{"s":"φ₀=0","x":360,"y":0.1483},
{"s":"φ₀=π/2","x":0,"y":0.1396},{"s":"φ₀=π/2","x":4.2,"y":0.1413},{"s":"φ₀=π/2","x":7.8,"y":0.141},{"s":"φ₀=π/2","x":11.4,"y":0.1379},{"s":"φ₀=π/2","x":13.8,"y":0.1335},{"s":"φ₀=π/2","x":16,"y":0.129},{"s":"φ₀=π/2","x":19.3,"y":0.1245},{"s":"φ₀=π/2","x":21,"y":0.1212},{"s":"φ₀=π/2","x":23.5,"y":0.1156},{"s":"φ₀=π/2","x":26,"y":0.1111},{"s":"φ₀=π/2","x":28.3,"y":0.1067},{"s":"φ₀=π/2","x":32,"y":0.1011},{"s":"φ₀=π/2","x":35.5,"y":0.0972},{"s":"φ₀=π/2","x":40.3,"y":0.0927},{"s":"φ₀=π/2","x":45,"y":0.0893},{"s":"φ₀=π/2","x":52.3,"y":0.086},{"s":"φ₀=π/2","x":59.6,"y":0.0832},{"s":"φ₀=π/2","x":65.6,"y":0.0815},{"s":"φ₀=π/2","x":71,"y":0.0807},{"s":"φ₀=π/2","x":76.4,"y":0.0821},{"s":"φ₀=π/2","x":81,"y":0.0843},{"s":"φ₀=π/2","x":86,"y":0.0882},{"s":"φ₀=π/2","x":91,"y":0.0932},{"s":"φ₀=π/2","x":95.7,"y":0.0983},{"s":"φ₀=π/2","x":100.5,"y":0.1039},{"s":"φ₀=π/2","x":105.3,"y":0.1106},{"s":"φ₀=π/2","x":110,"y":0.1167},{"s":"φ₀=π/2","x":113.7,"y":0.1217},{"s":"φ₀=π/2","x":118.5,"y":0.129},{"s":"φ₀=π/2","x":122,"y":0.1351},{"s":"φ₀=π/2","x":127,"y":0.1418},{"s":"φ₀=π/2","x":131.8,"y":0.1457},{"s":"φ₀=π/2","x":136.6,"y":0.1466},{"s":"φ₀=π/2","x":141.4,"y":0.1446},{"s":"φ₀=π/2","x":146,"y":0.1396},{"s":"φ₀=π/2","x":151,"y":0.1346},{"s":"φ₀=π/2","x":155.8,"y":0.1296},{"s":"φ₀=π/2","x":160.6,"y":0.1273},{"s":"φ₀=π/2","x":166,"y":0.1267},{"s":"φ₀=π/2","x":171.5,"y":0.129},{"s":"φ₀=π/2","x":177.5,"y":0.134},{"s":"φ₀=π/2","x":184,"y":0.1379},{"s":"φ₀=π/2","x":189,"y":0.139},{"s":"φ₀=π/2","x":193,"y":0.1379},{"s":"φ₀=π/2","x":197,"y":0.1351},{"s":"φ₀=π/2","x":200,"y":0.1307},{"s":"φ₀=π/2","x":202.4,"y":0.1262},{"s":"φ₀=π/2","x":204,"y":0.1212},{"s":"φ₀=π/2","x":206,"y":0.1167},{"s":"φ₀=π/2","x":207.8,"y":0.1117},{"s":"φ₀=π/2","x":210,"y":0.1061},{"s":"φ₀=π/2","x":212.6,"y":0.1022},{"s":"φ₀=π/2","x":216,"y":0.0983},{"s":"φ₀=π/2","x":221,"y":0.0955},{"s":"φ₀=π/2","x":227,"y":0.0932},{"s":"φ₀=π/2","x":234.4,"y":0.091},{"s":"φ₀=π/2","x":243,"y":0.089},{"s":"φ₀=π/2","x":252.6,"y":0.0879},{"s":"φ₀=π/2","x":259.8,"y":0.0893},{"s":"φ₀=π/2","x":265.8,"y":0.0932},{"s":"φ₀=π/2","x":270.7,"y":0.0977},{"s":"φ₀=π/2","x":275.5,"y":0.1022},{"s":"φ₀=π/2","x":279,"y":0.1061},{"s":"φ₀=π/2","x":282.8,"y":0.1111},{"s":"φ₀=π/2","x":286.4,"y":0.1161},{"s":"φ₀=π/2","x":290,"y":0.12},{"s":"φ₀=π/2","x":293.7,"y":0.1245},{"s":"φ₀=π/2","x":297.3,"y":0.129},{"s":"φ₀=π/2","x":301,"y":0.134},{"s":"φ₀=π/2","x":304.6,"y":0.1396},{"s":"φ₀=π/2","x":309.4,"y":0.1452},{"s":"φ₀=π/2","x":313,"y":0.148},{"s":"φ₀=π/2","x":317.8,"y":0.1491},{"s":"φ₀=π/2","x":322.7,"y":0.1477},{"s":"φ₀=π/2","x":327.5,"y":0.1435},{"s":"φ₀=π/2","x":332.4,"y":0.1379},{"s":"φ₀=π/2","x":337,"y":0.1329},{"s":"φ₀=π/2","x":342,"y":0.1284},{"s":"φ₀=π/2","x":348,"y":0.1267},{"s":"φ₀=π/2","x":353,"y":0.1284},{"s":"φ₀=π/2","x":357.7,"y":0.1324},{"s":"φ₀=π/2","x":360,"y":0.1343}
]
},
"vconcat": [
{
  "width": 1297, "height": 1039,
  "title": {"text": "(a) 挥舞角-方位角", "offset": 20},
  "data": {"name": "a"},
  "layer": [
    {
      "mark": {"type": "line", "strokeWidth": 5.5, "interpolate": "monotone"},
      "encoding": {
        "x": {"field": "x", "type": "quantitative", "scale": {"domain": [0, 360], "nice": false, "zero": false},
              "axis": {"orient": "bottom", "title": "方位角/(°)", "values": [0,30,60,90,120,150,180,210,240,270,300,330,360], "labelExpr": "datum.value % 60 === 0 ? datum.label : ''", "tickSize": {"condition": {"test": "datum.value % 60 === 0", "value": -19}, "value": -10}, "labelPadding": 40, "titlePadding": 18}},
        "y": {"field": "y", "type": "quantitative", "scale": {"domain": [-0.1, 1.2], "nice": false, "zero": false},
              "axis": {"orient": "left", "title": "挥舞角/(°)", "values": [0,0.1,0.2,0.3,0.4,0.5,0.6,0.7,0.8,0.9,1.0,1.1,1.2], "labelExpr": "round(datum.value*10) % 2 === 0 ? (datum.value === 0 ? '0' : format(datum.value, '.1f')) : ''", "tickSize": {"condition": {"test": "round(datum.value*10) % 2 === 0", "value": -19}, "value": -10}, "labelPadding": 41, "titlePadding": 35}},
        "color": {"field": "s", "type": "nominal", "title": null,
                  "scale": {"domain": ["φ₀=−π/2","φ₀=π/4","φ₀=0","φ₀=−π/4","φ₀=π/2"], "range": ["#000000","#00EE00","#0000FF","#FF0000","#F28A24"]}},
        "strokeDash": {"field": "s", "type": "nominal", "title": null,
                  "scale": {"domain": ["φ₀=−π/2","φ₀=π/4","φ₀=0","φ₀=−π/4","φ₀=π/2"], "range": [[1,0],[34,12,6,12],[5,24],[34,20],[4,7]]}}
      }
    },
    {
      "mark": {"type": "point", "opacity": 0, "size": 1},
      "encoding": {
        "x": {"field": "x", "type": "quantitative", "scale": {"domain": [0, 360], "nice": false, "zero": false},
              "axis": {"orient": "top", "title": null, "labels": false, "values": [0,30,60,90,120,150,180,210,240,270,300,330,360], "tickSize": {"condition": {"test": "datum.value % 60 === 0", "value": -19}, "value": -10}}},
        "y": {"field": "y", "type": "quantitative", "scale": {"domain": [-0.1, 1.2], "nice": false, "zero": false},
              "axis": {"orient": "right", "title": null, "labels": false, "values": [0,0.1,0.2,0.3,0.4,0.5,0.6,0.7,0.8,0.9,1.0,1.1,1.2], "tickSize": {"condition": {"test": "round(datum.value*10) % 2 === 0", "value": -19}, "value": -10}}}
      }
    }
  ],
  "resolve": {"axis": {"x": "independent", "y": "independent"}}
},
{
  "width": 1297, "height": 1039,
  "title": {"text": "(b) CL-方位角", "offset": 32},
  "data": {"name": "b"},
  "layer": [
    {
      "mark": {"type": "line", "strokeWidth": 5.5, "interpolate": "monotone"},
      "encoding": {
        "x": {"field": "x", "type": "quantitative", "scale": {"domain": [0, 360], "nice": false, "zero": false},
              "axis": {"orient": "bottom", "title": "方位角/(°)", "values": [0,30,60,90,120,150,180,210,240,270,300,330,360], "labelExpr": "datum.value % 60 === 0 ? datum.label : ''", "tickSize": {"condition": {"test": "datum.value % 60 === 0", "value": -19}, "value": -10}, "labelPadding": 40, "titlePadding": 18}},
        "y": {"field": "y", "type": "quantitative", "scale": {"domain": [0.075, 0.16], "nice": false, "zero": false},
              "axis": {"orient": "left", "title": "CL", "titleFontStyle": "italic", "values": [0.08,0.09,0.1,0.11,0.12,0.13,0.14,0.15,0.16], "labelExpr": "round(datum.value*100) % 2 === 0 ? format(datum.value, '.2f') : ''", "tickSize": {"condition": {"test": "round(datum.value*100) % 2 === 0", "value": -19}, "value": -10}, "labelPadding": 41, "titlePadding": 53}},
        "color": {"field": "s", "type": "nominal", "title": null,
                  "scale": {"domain": ["φ₀=−π/2","φ₀=π/4","φ₀=0","φ₀=−π/4","φ₀=π/2"], "range": ["#000000","#00EE00","#0000FF","#FF0000","#F28A24"]}},
        "strokeDash": {"field": "s", "type": "nominal", "title": null,
                  "scale": {"domain": ["φ₀=−π/2","φ₀=π/4","φ₀=0","φ₀=−π/4","φ₀=π/2"], "range": [[1,0],[34,12,6,12],[5,24],[34,20],[4,7]]}}
      }
    },
    {
      "mark": {"type": "point", "opacity": 0, "size": 1},
      "encoding": {
        "x": {"field": "x", "type": "quantitative", "scale": {"domain": [0, 360], "nice": false, "zero": false},
              "axis": {"orient": "top", "title": null, "labels": false, "values": [0,30,60,90,120,150,180,210,240,270,300,330,360], "tickSize": {"condition": {"test": "datum.value % 60 === 0", "value": -19}, "value": -10}}},
        "y": {"field": "y", "type": "quantitative", "scale": {"domain": [0.075, 0.16], "nice": false, "zero": false},
              "axis": {"orient": "right", "title": null, "labels": false, "values": [0.08,0.09,0.1,0.11,0.12,0.13,0.14,0.15,0.16], "tickSize": {"condition": {"test": "round(datum.value*100) % 2 === 0", "value": -19}, "value": -10}}}
      }
    }
  ],
  "resolve": {"axis": {"x": "independent", "y": "independent"}}
}
]
}
